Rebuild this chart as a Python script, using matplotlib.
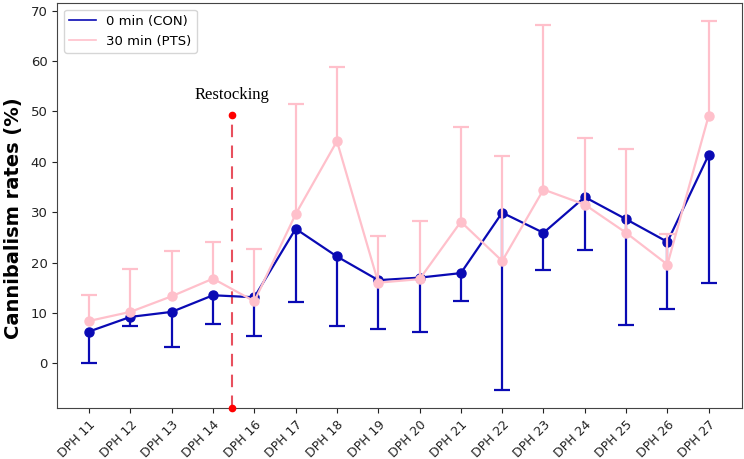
import numpy as np
import matplotlib
matplotlib.use('Agg')
import matplotlib.pyplot as plt
from matplotlib.lines import Line2D

# data
days = ['DPH 11', 'DPH 12', 'DPH 13', 'DPH 14', 'DPH 16', 'DPH 17', 'DPH 18', 'DPH 19',
        'DPH 20', 'DPH 21', 'DPH 22', 'DPH 23', 'DPH 24', 'DPH 25', 'DPH 26', 'DPH 27']

con_mean = [6.3, 9.2, 10.2, 13.5, 13.1, 26.7, 21.2, 16.5, 17.0, 17.9, 29.9, 25.9, 33.0, 28.6, 24.1, 41.4]
con_low = [0.1, 7.3, 3.3, 7.8, 5.4, 12.2, 7.3, 6.8, 6.3, 12.4, -5.4, 18.5, 22.5, 7.5, 10.8, 15.9]

pts_mean = [8.4, 10.2, 13.3, 16.8, 12.3, 29.6, 44.1, 16.0, 16.7, 28.1, 20.3, 34.5, 31.5, 25.9, 19.6, 49.2]
pts_high = [13.5, 18.7, 22.3, 24.0, 22.6, 51.4, 58.9, 25.3, 28.3, 46.9, 41.1, 67.1, 44.8, 42.6, 25.7, 68.0]

restock_x = 3.45
restock_y = [-8.9, 49.3]


def one_sided(ax, x, mean, end, color, z):
    # error bar only on one side, cap only at the far end
    ax.vlines(x, mean, end, color=color, linewidth=1.6, zorder=z)
    ax.plot(x, end, '_', color=color, markersize=11, markeredgewidth=1.6, zorder=z)


def main():
    fig = plt.figure(figsize=(7.44, 4.59), dpi=100)
    ax = fig.add_axes([0.077, 0.111, 0.920, 0.882])

    x = np.arange(len(days))

    blue = '#0a0ab4'
    pink = '#ffc0cb'

    one_sided(ax, x, con_mean, con_low, blue, 3)
    ax.plot(x, con_mean, color=blue, marker='o', markersize=6.5, linewidth=1.6, zorder=3)
    one_sided(ax, x, pts_mean, pts_high, pink, 4)
    ax.plot(x, pts_mean, color=pink, marker='o', markersize=6.5, linewidth=1.6, zorder=4)

    # restocking marker
    ax.plot([restock_x, restock_x], restock_y, color='#e8505e', linestyle='--',
            linewidth=1.5, dashes=(6, 4), zorder=2)
    ax.plot([restock_x, restock_x], restock_y, 'o', color='red', markersize=4.5,
            zorder=5, clip_on=False)
    ax.text(restock_x, restock_y[1] + 2.3, 'Restocking', ha='center', va='bottom',
            family=['Liberation Serif', 'DejaVu Serif'], fontsize=12)

    ax.set_xlim(-0.77, 15.8)
    ax.set_ylim(-8.9, 71.5)
    ax.set_yticks(range(0, 71, 10))
    ax.set_xticks(x)
    ax.set_xticklabels(days, rotation=45, ha='right', rotation_mode='anchor')
    ax.tick_params(axis='both', labelsize=9.5, colors='#222222')
    ax.tick_params(axis='x', labelsize=9)
    for s in ax.spines.values():
        s.set_color('#444444')

    ax.set_ylabel('Cannibalism rates (%)', fontsize=14, fontweight='bold')
    ax.yaxis.set_label_coords(-0.05, 0.47)

    handles = [Line2D([0], [0], color=blue, linewidth=1.2),
               Line2D([0], [0], color=pink, linewidth=1.2)]
    ax.legend(handles, ['0 min (CON)', '30 min (PTS)'], loc='upper left', fontsize=9.5)

    fig.savefig('out.png', dpi=100)


if __name__ == "__main__":
    main()
